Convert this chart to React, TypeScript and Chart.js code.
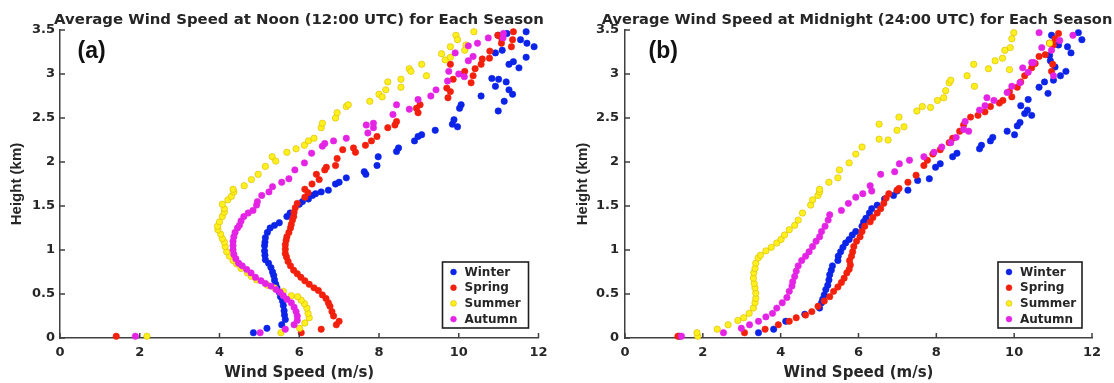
import React, { useEffect, useRef } from "react";
import { Chart, registerables } from "chart.js";

Chart.register(...registerables);

const FONT_H = "'DejaVu Sans', 'Liberation Sans', sans-serif";
const FONT_V = "'Liberation Sans', Arial, Helvetica, sans-serif";
const TEXT = "#262626";
const AXIS = "#404040";

const seasons = ["Winter", "Spring", "Summer", "Autumn"];
const fillColors = ["#0b24e8", "#f2200c", "#fff01e", "#e424e4"];
const edgeColors = ["#0b24e8", "#f2200c", "#d6b800", "#e424e4"];

const xTickValues = [0, 2, 4, 6, 8, 10, 12];
const xTickLabels = ["0", "2", "4", "6", "8", "10", "12"];
const yTickValues = [0, 0.5, 1, 1.5, 2, 2.5, 3, 3.5];
const yTickLabels = ["0", "0.5", "1", "1.5", "2", "2.5", "3", "3.5"];
const xAxisTitle = "Wind Speed (m/s)";
const yAxisTitle = "Height (km)";
const panelTitles = [
  "Average Wind Speed at Noon (12:00 UTC) for Each Season",
  "Average Wind Speed at Midnight (24:00 UTC) for Each Season",
];
const panelLabels = ["(a)", "(b)"];

// ---- (a) Noon: [wind speed m/s, height km]
const noonWinter: [number, number][] = [
  [4.85, 0.06], [5.19, 0.11], [5.56, 0.15], [5.65, 0.21], [5.63, 0.26], [5.62, 0.31], [5.6, 0.37], [5.58, 0.42],
  [5.53, 0.47], [5.5, 0.52], [5.44, 0.57], [5.41, 0.61], [5.38, 0.66], [5.36, 0.71], [5.33, 0.75], [5.29, 0.8],
  [5.23, 0.85], [5.15, 0.89], [5.14, 0.94], [5.13, 0.99], [5.13, 1.05], [5.14, 1.09], [5.15, 1.14], [5.2, 1.2],
  [5.27, 1.25], [5.38, 1.28], [5.5, 1.31], [5.69, 1.38], [5.77, 1.42], [6.0, 1.52], [6.08, 1.55], [6.23, 1.58],
  [6.33, 1.62], [6.41, 1.64], [6.55, 1.66], [6.73, 1.68], [6.91, 1.75], [7.0, 1.77], [7.18, 1.82], [7.63, 1.89],
  [7.67, 1.86], [7.95, 1.96], [7.98, 2.06], [8.44, 2.12], [8.49, 2.16], [8.89, 2.24], [8.98, 2.29], [9.07, 2.31],
  [9.41, 2.36], [9.84, 2.43], [9.88, 2.48], [9.97, 2.4], [10.02, 2.61], [10.06, 2.65], [10.56, 2.75], [10.92, 2.86],
  [10.99, 2.58], [10.83, 2.95], [11.0, 2.94], [11.14, 2.69], [11.26, 2.82], [11.19, 2.91], [11.35, 2.77], [11.37, 3.14],
  [11.26, 3.11], [11.51, 3.07], [11.69, 3.19], [11.89, 3.31], [11.71, 3.35], [11.55, 3.39], [11.09, 3.27], [10.92, 3.24],
  [10.99, 3.44], [11.21, 3.46], [11.69, 3.48],
];
const noonSpring: [number, number][] = [
  [1.41, 0.02], [6.05, 0.06], [6.55, 0.1], [6.93, 0.15], [7.0, 0.19], [6.86, 0.25], [6.82, 0.3], [6.77, 0.36],
  [6.73, 0.4], [6.67, 0.45], [6.58, 0.49], [6.48, 0.54], [6.37, 0.57], [6.25, 0.61], [6.14, 0.65], [6.04, 0.69],
  [5.95, 0.73], [5.86, 0.77], [5.78, 0.82], [5.72, 0.87], [5.68, 0.92], [5.65, 0.96], [5.65, 1.01], [5.65, 1.06],
  [5.67, 1.11], [5.69, 1.15], [5.74, 1.2], [5.78, 1.25], [5.8, 1.29], [5.83, 1.34], [5.86, 1.38], [5.87, 1.43],
  [5.9, 1.48], [5.95, 1.53], [6.14, 1.6], [6.22, 1.65], [6.14, 1.69], [6.32, 1.75], [6.5, 1.8], [6.43, 1.86],
  [6.64, 1.91], [6.68, 1.94], [6.91, 1.96], [6.95, 2.04], [7.09, 2.14], [7.36, 2.16], [7.41, 2.11], [7.66, 2.19],
  [7.81, 2.24], [7.95, 2.29], [8.22, 2.39], [8.4, 2.42], [8.44, 2.46], [8.98, 2.56], [8.94, 2.61], [9.03, 2.65],
  [9.7, 2.84], [9.73, 2.73], [9.79, 2.8], [9.86, 2.94], [10.11, 3.0], [10.15, 3.03], [10.31, 2.9], [10.36, 2.98],
  [10.41, 3.06], [10.59, 3.17], [10.56, 3.11], [10.77, 3.18], [10.78, 3.26], [10.98, 3.44], [11.07, 3.35], [11.32, 3.31],
  [11.35, 3.39], [11.37, 3.48], [11.08, 3.4], [9.79, 3.11],
];
const noonSummer: [number, number][] = [
  [2.18, 0.02], [5.54, 0.06], [6.01, 0.11], [6.14, 0.17], [6.25, 0.23], [6.22, 0.28], [6.19, 0.34], [6.13, 0.39],
  [6.05, 0.43], [5.96, 0.47], [5.8, 0.48], [5.6, 0.53], [5.38, 0.57], [5.2, 0.6], [4.93, 0.66], [4.8, 0.7],
  [4.7, 0.74], [4.54, 0.79], [4.43, 0.84], [4.34, 0.88], [4.25, 0.93], [4.18, 0.98], [4.14, 1.04], [4.12, 1.09],
  [4.07, 1.13], [4.03, 1.18], [3.96, 1.23], [3.95, 1.27], [4.0, 1.32], [4.07, 1.38], [4.12, 1.43], [4.12, 1.47],
  [4.07, 1.52], [4.21, 1.57], [4.3, 1.61], [4.36, 1.66], [4.34, 1.69], [4.62, 1.73], [4.8, 1.8], [4.97, 1.86],
  [5.15, 1.95], [5.32, 2.06], [5.41, 2.01], [5.69, 2.11], [5.92, 2.15], [6.13, 2.19], [6.23, 2.24], [6.37, 2.27],
  [6.55, 2.39], [6.58, 2.44], [6.91, 2.5], [6.95, 2.56], [7.18, 2.63], [7.23, 2.65], [7.77, 2.69], [8.0, 2.77],
  [8.08, 2.74], [8.17, 2.82], [8.22, 2.91], [8.55, 2.85], [8.55, 2.94], [8.76, 3.06], [8.8, 3.03], [9.07, 3.11],
  [9.19, 2.98], [9.57, 3.23], [9.66, 3.16], [9.79, 3.19], [9.79, 3.31], [9.93, 3.44], [9.97, 3.39], [10.18, 3.33],
  [10.15, 3.27], [10.38, 3.48],
];
const noonAutumn: [number, number][] = [
  [1.89, 0.02], [5.02, 0.06], [5.65, 0.1], [5.87, 0.15], [5.95, 0.2], [5.95, 0.25], [5.92, 0.3], [5.87, 0.35],
  [5.8, 0.4], [5.69, 0.44], [5.6, 0.48], [5.52, 0.52], [5.42, 0.55], [5.29, 0.59], [5.15, 0.62], [5.04, 0.65],
  [4.9, 0.69], [4.79, 0.74], [4.68, 0.78], [4.57, 0.82], [4.48, 0.85], [4.41, 0.9], [4.36, 0.95], [4.34, 1.0],
  [4.34, 1.05], [4.34, 1.1], [4.36, 1.15], [4.39, 1.2], [4.45, 1.25], [4.5, 1.28], [4.54, 1.33], [4.61, 1.38],
  [4.72, 1.42], [4.84, 1.45], [4.93, 1.51], [4.95, 1.55], [5.06, 1.62], [5.24, 1.66], [5.33, 1.72], [5.56, 1.77],
  [5.74, 1.81], [5.89, 1.91], [6.13, 1.99], [6.31, 2.1], [6.58, 2.18], [6.64, 2.21], [6.86, 2.24], [7.18, 2.27],
  [7.72, 2.33], [7.86, 2.39], [7.68, 2.42], [7.86, 2.44], [8.44, 2.65], [8.35, 2.54], [8.76, 2.6], [8.98, 2.71],
  [9.3, 2.75], [9.43, 2.82], [9.72, 2.92], [9.75, 3.03], [10.0, 3.0], [10.14, 2.97], [9.91, 3.24], [10.24, 3.32],
  [10.36, 3.2], [10.24, 3.15], [10.47, 3.35], [10.74, 3.41], [11.12, 3.46], [11.11, 3.41],
];

// ---- (b) Midnight: [wind speed m/s, height km]
const midWinter: [number, number][] = [
  [1.4, 0.02], [3.43, 0.06], [3.82, 0.1], [4.13, 0.19], [4.62, 0.27], [5.0, 0.34], [5.05, 0.4], [5.08, 0.44],
  [5.12, 0.49], [5.16, 0.55], [5.21, 0.6], [5.24, 0.66], [5.26, 0.72], [5.3, 0.77], [5.33, 0.82], [5.47, 0.88],
  [5.48, 0.93], [5.54, 0.98], [5.6, 1.03], [5.67, 1.08], [5.76, 1.12], [5.84, 1.17], [5.93, 1.21], [6.09, 1.27],
  [6.13, 1.32], [6.19, 1.36], [6.28, 1.42], [6.34, 1.47], [6.48, 1.51], [6.67, 1.58], [6.9, 1.62], [6.99, 1.67],
  [7.27, 1.68], [7.52, 1.79], [7.82, 1.81], [7.98, 1.94], [8.1, 1.98], [8.42, 2.06], [8.53, 2.1], [9.11, 2.15],
  [9.16, 2.19], [9.39, 2.24], [9.45, 2.28], [9.82, 2.35], [10.01, 2.31], [10.08, 2.41], [10.15, 2.45], [10.27, 2.55],
  [10.17, 2.64], [10.34, 2.59], [10.36, 2.71], [10.45, 2.53], [10.64, 2.85], [10.87, 2.78], [10.78, 2.91], [11.01, 2.93],
  [11.19, 2.98], [11.33, 3.03], [11.05, 3.08], [10.93, 3.15], [10.91, 3.21], [11.14, 3.33], [11.37, 3.31], [11.46, 3.24],
  [11.65, 3.47], [11.74, 3.39], [10.96, 3.44],
];
const midSpring: [number, number][] = [
  [1.36, 0.02], [3.07, 0.06], [3.6, 0.1], [3.94, 0.15], [4.22, 0.19], [4.4, 0.23], [4.64, 0.26], [4.8, 0.3],
  [4.96, 0.36], [5.12, 0.42], [5.26, 0.47], [5.36, 0.53], [5.47, 0.58], [5.56, 0.63], [5.63, 0.68], [5.7, 0.74],
  [5.76, 0.78], [5.79, 0.83], [5.77, 0.88], [5.82, 0.93], [5.85, 0.98], [5.88, 1.04], [5.95, 1.1], [6.04, 1.15],
  [6.09, 1.21], [6.16, 1.27], [6.3, 1.32], [6.37, 1.37], [6.48, 1.42], [6.57, 1.47], [6.65, 1.53], [6.71, 1.59],
  [6.78, 1.64], [6.99, 1.68], [7.04, 1.7], [7.27, 1.77], [7.48, 1.85], [7.68, 1.96], [7.77, 2.02], [7.91, 2.09],
  [8.1, 2.14], [8.33, 2.22], [8.42, 2.27], [8.6, 2.35], [8.7, 2.42], [8.88, 2.51], [9.07, 2.53], [9.25, 2.57],
  [9.39, 2.63], [9.62, 2.67], [9.71, 2.7], [9.88, 2.8], [9.94, 2.74], [10.08, 2.85], [10.17, 2.91], [10.27, 2.98],
  [10.45, 3.07], [10.54, 3.12], [10.64, 3.2], [10.8, 3.22], [10.96, 3.03], [10.99, 3.11], [11.01, 3.33], [11.05, 3.4],
  [11.14, 3.46], [10.91, 3.35],
];
const midSummer: [number, number][] = [
  [1.87, 0.02], [1.85, 0.06], [2.37, 0.1], [2.65, 0.15], [2.9, 0.2], [3.05, 0.23], [3.19, 0.28], [3.3, 0.34],
  [3.34, 0.4], [3.36, 0.45], [3.36, 0.51], [3.34, 0.57], [3.32, 0.62], [3.3, 0.68], [3.31, 0.74], [3.34, 0.79],
  [3.36, 0.85], [3.42, 0.91], [3.48, 0.94], [3.62, 0.99], [3.76, 1.03], [3.9, 1.08], [4.01, 1.12], [4.1, 1.17],
  [4.22, 1.23], [4.36, 1.28], [4.45, 1.34], [4.56, 1.42], [4.77, 1.51], [4.82, 1.57], [4.96, 1.62], [5.0, 1.66],
  [5.0, 1.69], [5.24, 1.77], [5.47, 1.82], [5.51, 1.91], [5.76, 1.99], [5.93, 2.09], [6.09, 2.17], [6.53, 2.26],
  [6.53, 2.43], [6.76, 2.25], [6.99, 2.36], [7.04, 2.51], [7.17, 2.4], [7.5, 2.58], [7.64, 2.63], [7.85, 2.62],
  [8.03, 2.7], [8.19, 2.73], [8.24, 2.81], [8.33, 2.9], [8.37, 2.93], [8.79, 2.98], [8.96, 3.11], [8.98, 2.86],
  [9.34, 3.06], [9.51, 3.15], [9.7, 3.18], [9.76, 3.27], [9.88, 3.05], [9.9, 3.3], [9.94, 3.4], [9.99, 3.47],
  [10.91, 3.35],
];
const midAutumn: [number, number][] = [
  [1.45, 0.02], [2.53, 0.06], [2.99, 0.11], [3.2, 0.15], [3.43, 0.19], [3.62, 0.24], [3.79, 0.28], [3.9, 0.34],
  [4.04, 0.4], [4.16, 0.46], [4.22, 0.53], [4.29, 0.59], [4.31, 0.64], [4.36, 0.7], [4.4, 0.76], [4.45, 0.82],
  [4.54, 0.88], [4.64, 0.93], [4.73, 0.98], [4.82, 1.04], [4.91, 1.1], [5.0, 1.15], [5.05, 1.21], [5.14, 1.27],
  [5.22, 1.34], [5.26, 1.4], [5.56, 1.45], [5.74, 1.53], [5.93, 1.6], [6.11, 1.64], [6.34, 1.67], [6.3, 1.73],
  [6.57, 1.86], [6.93, 1.89], [7.05, 1.98], [7.31, 2.02], [7.68, 2.06], [7.94, 2.11], [8.14, 2.17], [8.37, 2.22],
  [8.51, 2.28], [8.7, 2.37], [8.74, 2.46], [8.83, 2.35], [9.11, 2.59], [9.25, 2.64], [9.3, 2.73], [9.48, 2.7],
  [9.82, 2.79], [9.94, 2.86], [10.15, 2.9], [10.22, 3.07], [10.36, 3.02], [10.45, 3.13], [10.64, 3.47], [10.71, 3.3],
  [10.96, 3.27], [11.01, 2.98], [11.17, 3.38], [11.51, 3.44], [10.5, 3.13],
];

const panelSeries = [
  [noonWinter, noonSpring, noonSummer, noonAutumn],
  [midWinter, midSpring, midSummer, midAutumn],
];

// layout of each panel (pixels); canvases overlap, the container clips at 1114
const panelLayout = [
  { left: 0, width: 598, yAxisWidth: 60, rightGap: 59.5, yTickPad: 5, yTitlePad: 8, labelDx: 17.5, legendW: 86, titleSize: 14.9 },
  { left: 565, width: 584, yAxisWidth: 60, rightGap: 57, yTickPad: 6, yTitlePad: 9, labelDx: 23.5, legendW: 84, titleSize: 14.6 },
];

const decor = {
  id: "decor",
  afterDraw(chart: any, _args: any, opts: any) {
    const { ctx, chartArea: ca } = chart;
    const xs = chart.scales.x;
    const ys = chart.scales.y;
    ctx.save();
    // inward tick marks
    ctx.strokeStyle = AXIS;
    ctx.lineWidth = 1.5;
    ctx.beginPath();
    xTickValues.forEach((v) => {
      const p = xs.getPixelForValue(v);
      ctx.moveTo(p, ca.bottom);
      ctx.lineTo(p, ca.bottom - 5);
    });
    yTickValues.forEach((v) => {
      const p = ys.getPixelForValue(v);
      ctx.moveTo(ca.left, p);
      ctx.lineTo(ca.left + 5, p);
    });
    ctx.stroke();

    // panel label
    ctx.fillStyle = "#111";
    ctx.font = `bold 23px ${FONT_V}`;
    ctx.textAlign = "left";
    ctx.textBaseline = "middle";
    ctx.fillText(opts.label, ca.left + opts.labelDx, ca.top + 22);

    // legend box
    const w = opts.legendW;
    const h = 66;
    const bx = ca.right - 10 - w;
    const by = ca.bottom - 10 - h;
    ctx.fillStyle = "#fff";
    ctx.fillRect(bx, by, w, h);
    ctx.lineWidth = 1.6;
    ctx.strokeStyle = "#1e1e1e";
    ctx.strokeRect(bx, by, w, h);
    ctx.font = `bold 12px ${FONT_H}`;
    chart.data.datasets.forEach((ds: any, i: number) => {
      const y = by + 10 + i * 15.7;
      ctx.beginPath();
      ctx.arc(bx + 11, y, 2.9, 0, Math.PI * 2);
      ctx.fillStyle = ds.backgroundColor;
      ctx.fill();
      ctx.lineWidth = 0.6;
      ctx.strokeStyle = ds.borderColor;
      ctx.stroke();
      ctx.fillStyle = TEXT;
      ctx.fillText(ds.label, bx + 22, y + 0.5);
    });
    ctx.restore();
  },
};

function makeChart(canvas: HTMLCanvasElement, idx: number) {
  const lay = panelLayout[idx];
  const tickFont = { family: FONT_H, size: 13, weight: "bold" as const, lineHeight: 1.2 };
  const titleFont = { family: FONT_H, size: 15, weight: "bold" as const, lineHeight: 1.2 };
  const mainTitleFont = { family: FONT_H, size: lay.titleSize, weight: "bold" as const, lineHeight: 18 / lay.titleSize };
  const yTitleFont = { family: FONT_V, size: 15, weight: "bold" as const, lineHeight: 1.2 };
  return new Chart(canvas, {
    type: "scatter",
    data: {
      datasets: panelSeries[idx].map((pts, i) => ({
        label: seasons[i],
        data: pts.map(([x, y]) => ({ x, y })),
        backgroundColor: fillColors[i],
        borderColor: edgeColors[i],
        borderWidth: 0.6,
        pointRadius: 3.2,
        pointHoverRadius: 3.2,
        order: 4 - i,
        clip: false,
      })),
    },
    options: {
      responsive: false,
      animation: false,
      events: [],
      layout: { padding: 0 },
      plugins: {
        legend: { display: false },
        tooltip: { enabled: false },
        title: {
          display: true,
          text: panelTitles[idx],
          color: TEXT,
          font: mainTitleFont,
          padding: { top: 11, bottom: 1 },
          fullSize: true,
        },
        decor: { label: panelLabels[idx], labelDx: lay.labelDx, legendW: lay.legendW },
      } as any,
      scales: {
        x: {
          type: "linear",
          position: "bottom",
          min: 0,
          max: 12,
          afterBuildTicks: (s: any) => {
            s.ticks = xTickValues.map((v) => ({ value: v }));
          },
          grid: { display: false, drawTicks: false },
          border: { display: true, color: AXIS, width: 1.5 },
          ticks: {
            color: TEXT,
            font: tickFont,
            padding: 7,
            maxRotation: 0,
            autoSkip: false,
            callback: (_v: any, i: number) => xTickLabels[i],
          },
          title: { display: true, text: xAxisTitle, color: TEXT, font: titleFont, padding: { top: 0, bottom: 1 } },
          afterFit: (s: any) => {
            s.height = 45;
          },
        },
        y: {
          type: "linear",
          position: "left",
          min: 0,
          max: 3.5,
          afterBuildTicks: (s: any) => {
            s.ticks = yTickValues.map((v) => ({ value: v }));
          },
          grid: { display: false, drawTicks: false },
          border: { display: true, color: AXIS, width: 1.5 },
          ticks: {
            color: TEXT,
            font: tickFont,
            padding: lay.yTickPad,
            autoSkip: false,
            callback: (_v: any, i: number) => yTickLabels[i],
          },
          title: { display: true, text: yAxisTitle, color: TEXT, font: yTitleFont, padding: { top: lay.yTitlePad, bottom: 0 } },
          afterFit: (s: any) => {
            s.width = lay.yAxisWidth;
          },
        },
        gap: {
          type: "linear",
          position: "right",
          display: true,
          grid: { display: false, drawTicks: false },
          border: { display: false },
          ticks: { display: false },
          afterFit: (s: any) => {
            s.width = lay.rightGap;
          },
        },
      } as any,
    },
    plugins: [decor],
  });
}

export default function App() {
  const ref0 = useRef<HTMLCanvasElement | null>(null);
  const ref1 = useRef<HTMLCanvasElement | null>(null);

  useEffect(() => {
    const charts: Chart[] = [];
    if (ref0.current) charts.push(makeChart(ref0.current, 0));
    if (ref1.current) charts.push(makeChart(ref1.current, 1));
    return () => charts.forEach((c) => c.destroy());
  }, []);

  return (
    <div
      style={{
        position: "fixed",
        left: 0,
        top: 0,
        width: 1114,
        height: 383,
        overflow: "hidden",
        background: "#fff",
      }}
    >
      {[ref0, ref1].map((r, i) => (
        <canvas
          key={i}
          ref={r}
          width={panelLayout[i].width}
          height={383}
          style={{ position: "absolute", left: panelLayout[i].left, top: 0, width: panelLayout[i].width, height: 383 }}
        />
      ))}
    </div>
  );
}
